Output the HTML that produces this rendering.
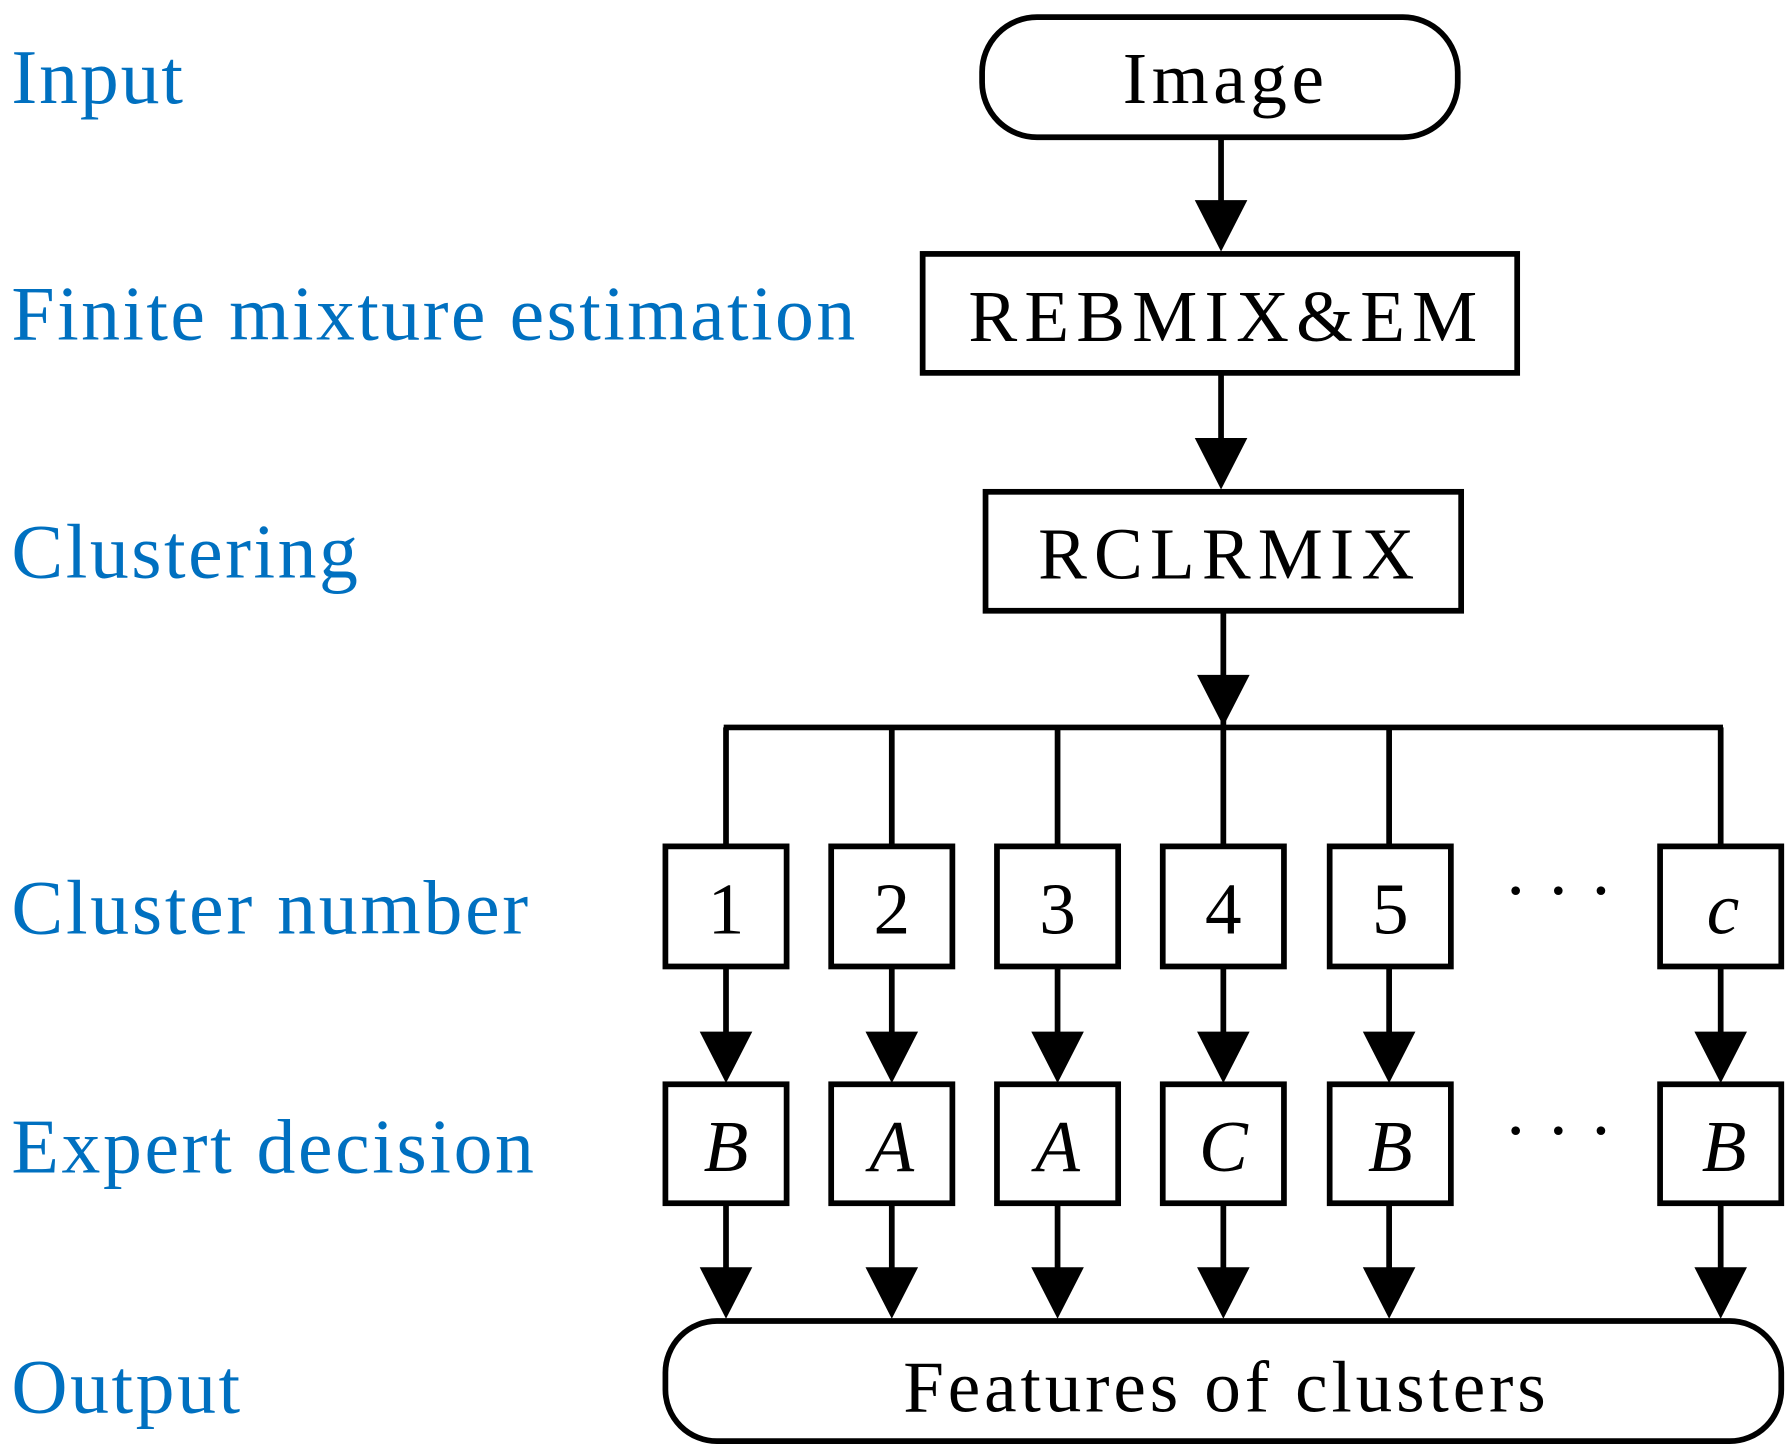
<!DOCTYPE html>
<html><head><meta charset="utf-8"><style>
html,body{margin:0;padding:0;background:#fff;}
svg{display:block;}
.lbl{font-family:"Liberation Serif",serif;font-size:68px;fill:#0070C0;}
.t{font-family:"Liberation Serif",serif;font-size:64px;fill:#000;text-anchor:middle;}
.l{font-family:"Liberation Serif",serif;font-size:64px;fill:#000;}
.i{font-style:italic;}
</style></head><body>
<svg width="1787" height="1456" viewBox="0 0 1563 1273" preserveAspectRatio="none" xmlns="http://www.w3.org/2000/svg">
<g fill="none" stroke="#000" stroke-width="5">
<rect x="859" y="15" width="416" height="105" rx="48"/>
<rect x="807" y="222" width="520" height="104"/>
<rect x="862" y="430" width="416" height="104"/>
<rect x="582" y="1155" width="976" height="105" rx="45"/>
<line x1="1068" y1="120" x2="1068" y2="185"/>
<line x1="1068" y1="326" x2="1068" y2="390"/>
<line x1="1070" y1="534" x2="1070" y2="636"/>
<line x1="633" y1="636" x2="1507" y2="636"/>
</g>
<g fill="#000">
<polygon points="1045,175 1091,175 1068,220"/>
<polygon points="1045,383 1091,383 1068,428"/>
<polygon points="1047,590 1093,590 1070,635"/>
</g>
<g fill="none" stroke="#000" stroke-width="5">
<line x1="635" y1="636" x2="635" y2="740"/><line x1="780" y1="636" x2="780" y2="740"/><line x1="925" y1="636" x2="925" y2="740"/><line x1="1070" y1="636" x2="1070" y2="740"/><line x1="1215" y1="636" x2="1215" y2="740"/><line x1="1505" y1="636" x2="1505" y2="740"/>
<rect x="582" y="740" width="106" height="105"/><rect x="727" y="740" width="106" height="105"/><rect x="872" y="740" width="106" height="105"/><rect x="1017" y="740" width="106" height="105"/><rect x="1163" y="740" width="106" height="105"/><rect x="1452" y="740" width="106" height="105"/>
<rect x="582" y="948" width="106" height="104"/><rect x="727" y="948" width="106" height="104"/><rect x="872" y="948" width="106" height="104"/><rect x="1017" y="948" width="106" height="104"/><rect x="1163" y="948" width="106" height="104"/><rect x="1452" y="948" width="106" height="104"/>
<line x1="635" y1="845" x2="635" y2="910"/><line x1="780" y1="845" x2="780" y2="910"/><line x1="925" y1="845" x2="925" y2="910"/><line x1="1070" y1="845" x2="1070" y2="910"/><line x1="1215" y1="845" x2="1215" y2="910"/><line x1="1505" y1="845" x2="1505" y2="910"/>
<line x1="635" y1="1052" x2="635" y2="1115"/><line x1="780" y1="1052" x2="780" y2="1115"/><line x1="925" y1="1052" x2="925" y2="1115"/><line x1="1070" y1="1052" x2="1070" y2="1115"/><line x1="1215" y1="1052" x2="1215" y2="1115"/><line x1="1505" y1="1052" x2="1505" y2="1115"/>
</g>
<g fill="#000">
<polygon points="612,902 658,902 635,947"/><polygon points="757,902 803,902 780,947"/><polygon points="902,902 948,902 925,947"/><polygon points="1047,902 1093,902 1070,947"/><polygon points="1192,902 1238,902 1215,947"/><polygon points="1482,902 1528,902 1505,947"/>
<polygon points="612,1108 658,1108 635,1153"/><polygon points="757,1108 803,1108 780,1153"/><polygon points="902,1108 948,1108 925,1153"/><polygon points="1047,1108 1093,1108 1070,1153"/><polygon points="1192,1108 1238,1108 1215,1153"/><polygon points="1482,1108 1528,1108 1505,1153"/>
</g>
<text class="lbl" x="10" y="90" textLength="150" lengthAdjust="spacing">Input</text>
<text class="lbl" x="10" y="297" textLength="738" lengthAdjust="spacing">Finite mixture estimation</text>
<text class="lbl" x="10" y="505" textLength="303" lengthAdjust="spacing">Clustering</text>
<text class="lbl" x="10" y="816" textLength="452" lengthAdjust="spacing">Cluster number</text>
<text class="lbl" x="10" y="1025" textLength="457" lengthAdjust="spacing">Expert decision</text>
<text class="lbl" x="10" y="1235" textLength="200" lengthAdjust="spacing">Output</text>
<text class="l" x="982" y="90" textLength="176" lengthAdjust="spacing">Image</text>
<text class="l" x="847" y="298" textLength="445" lengthAdjust="spacing">REBMIX&amp;EM</text>
<text class="l" x="908" y="506" textLength="329" lengthAdjust="spacing">RCLRMIX</text>
<text class="t" x="635" y="816">1</text><text class="t" x="780" y="816">2</text><text class="t" x="925" y="816">3</text><text class="t" x="1070" y="816">4</text><text class="t" x="1216" y="816">5</text><text class="t i" x="1507" y="816">c</text>
<text class="t" x="1363" y="800">· · ·</text>
<text class="t i" x="635" y="1024">B</text><text class="t i" x="780" y="1024">A</text><text class="t i" x="925" y="1024">A</text><text class="t i" x="1070" y="1024">C</text><text class="t i" x="1216" y="1024">B</text><text class="t i" x="1508" y="1024">B</text>
<text class="t" x="1363" y="1010">· · ·</text>
<text class="l" x="790" y="1234" textLength="562" lengthAdjust="spacing">Features of clusters</text>
</svg>
</body></html>
